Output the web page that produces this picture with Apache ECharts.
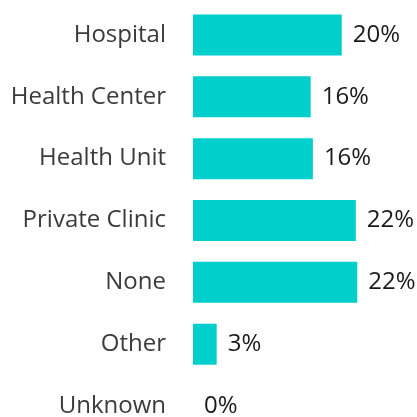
<!DOCTYPE html>
<html>
<head>
<meta charset="utf-8">
<script src="https://cdn.jsdelivr.net/npm/echarts@6/dist/echarts.min.js"></script>
<style>
  html, body { margin: 0; padding: 0; background: #fff; }
  #chart { width: 417px; height: 417px; }
</style>
</head>
<body>
<div id="chart"></div>
<script>
// categories top to bottom
var categories = ['Hospital', 'Health Center', 'Health Unit', 'Private Clinic', 'None', 'Other', 'Unknown']
// share of respondents, %
var shares = [20.1, 15.9, 16.2, 22.0, 22.2, 3.2, 0]

var chart = echarts.init(document.getElementById('chart'))
var option = {
  animation: false,
  grid: {
    left: 193,
    right: 2,
    top: 4,
    height: 433,
    outerBoundsMode: 'none' // let the last row run past the bottom edge
  },
  xAxis: {
    type: 'value',
    min: 0,
    max: 30,
    show: false
  },
  yAxis: {
    type: 'category',
    data: categories,
    inverse: true,
    axisLine: { show: false },
    axisTick: { show: false },
    splitLine: { show: false },
    axisLabel: {
      margin: 27,
      fontFamily: 'Open Sans',
      fontSize: 24,
      color: '#3b3b3b'
    }
  },
  series: [{
    type: 'bar',
    data: shares,
    barWidth: 41,
    itemStyle: { color: '#00cfcc' },
    label: {
      show: true,
      position: 'right',
      distance: 11,
      fontFamily: 'Open Sans',
      fontSize: 24,
      color: '#1a1a1a',
      formatter: function (p) {
        return Math.round(p.value) + '%'
      }
    }
  }]
}
chart.setOption(option)
</script>
</body>
</html>
